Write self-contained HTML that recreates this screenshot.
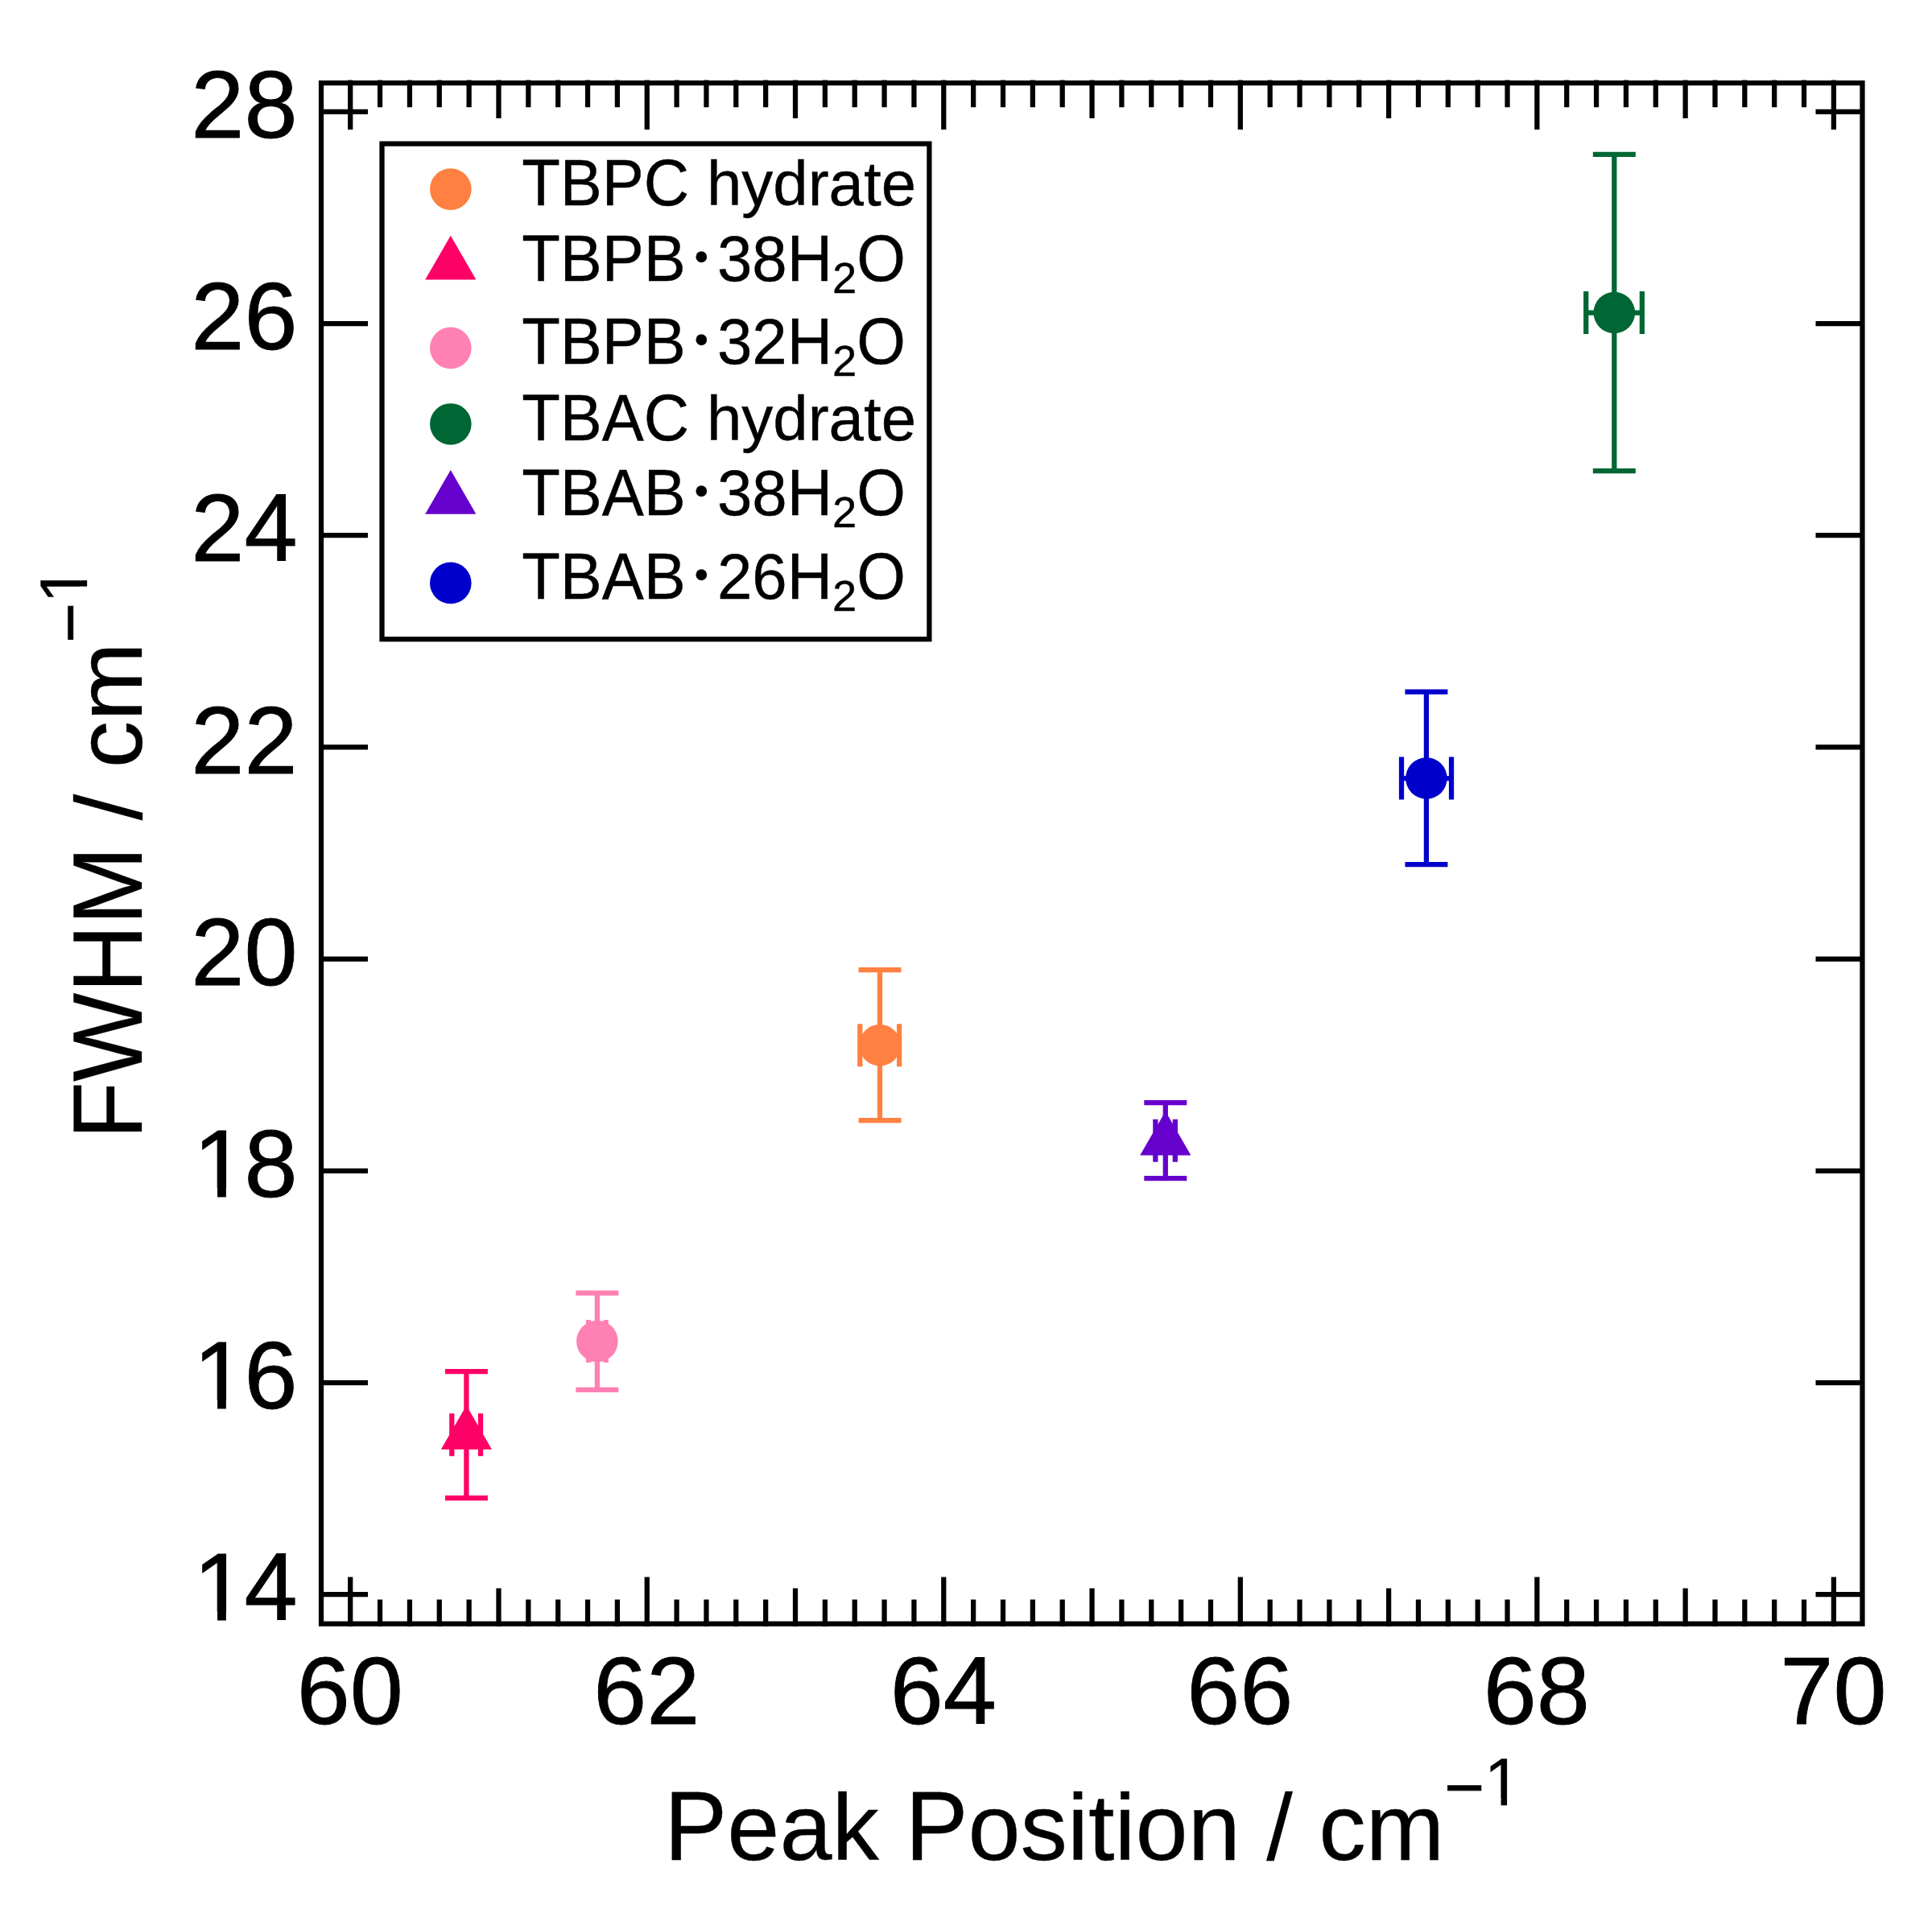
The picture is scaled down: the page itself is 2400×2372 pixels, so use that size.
<!DOCTYPE html>
<html lang="en"><head><meta charset="utf-8"><title>FWHM vs Peak Position</title>
<style>html,body{margin:0;padding:0;background:#fff}body{width:2400px;height:2372px;overflow:hidden}</style></head>
<body>
<svg width="2400" height="2372" viewBox="0 0 2400 2372" style="display:block">
<rect width="2400" height="2372" fill="#fff"/>
<g stroke="#000" stroke-width="6.25" fill="none" stroke-linecap="butt">
<path d="M395.88 103.0H2316.62M395.88 2017.6H2316.62M399.0 103.0V2017.6M2313.5 103.0V2017.6"/>
<path d="M435.20 2021.02v-61.42M435.20 99.58v61.42M472.05 2021.02v-33.62M472.05 99.58v33.62M508.91 2021.02v-33.62M508.91 99.58v33.62M545.76 2021.02v-33.62M545.76 99.58v33.62M582.62 2021.02v-33.62M582.62 99.58v33.62M619.47 2021.02v-47.42M619.47 99.58v47.42M656.32 2021.02v-33.62M656.32 99.58v33.62M693.18 2021.02v-33.62M693.18 99.58v33.62M730.03 2021.02v-33.62M730.03 99.58v33.62M766.89 2021.02v-33.62M766.89 99.58v33.62M803.74 2021.02v-61.42M803.74 99.58v61.42M840.59 2021.02v-33.62M840.59 99.58v33.62M877.45 2021.02v-33.62M877.45 99.58v33.62M914.30 2021.02v-33.62M914.30 99.58v33.62M951.16 2021.02v-33.62M951.16 99.58v33.62M988.01 2021.02v-47.42M988.01 99.58v47.42M1024.86 2021.02v-33.62M1024.86 99.58v33.62M1061.72 2021.02v-33.62M1061.72 99.58v33.62M1098.57 2021.02v-33.62M1098.57 99.58v33.62M1135.43 2021.02v-33.62M1135.43 99.58v33.62M1172.28 2021.02v-61.42M1172.28 99.58v61.42M1209.13 2021.02v-33.62M1209.13 99.58v33.62M1245.99 2021.02v-33.62M1245.99 99.58v33.62M1282.84 2021.02v-33.62M1282.84 99.58v33.62M1319.70 2021.02v-33.62M1319.70 99.58v33.62M1356.55 2021.02v-47.42M1356.55 99.58v47.42M1393.40 2021.02v-33.62M1393.40 99.58v33.62M1430.26 2021.02v-33.62M1430.26 99.58v33.62M1467.11 2021.02v-33.62M1467.11 99.58v33.62M1503.97 2021.02v-33.62M1503.97 99.58v33.62M1540.82 2021.02v-61.42M1540.82 99.58v61.42M1577.67 2021.02v-33.62M1577.67 99.58v33.62M1614.53 2021.02v-33.62M1614.53 99.58v33.62M1651.38 2021.02v-33.62M1651.38 99.58v33.62M1688.24 2021.02v-33.62M1688.24 99.58v33.62M1725.09 2021.02v-47.42M1725.09 99.58v47.42M1761.94 2021.02v-33.62M1761.94 99.58v33.62M1798.80 2021.02v-33.62M1798.80 99.58v33.62M1835.65 2021.02v-33.62M1835.65 99.58v33.62M1872.51 2021.02v-33.62M1872.51 99.58v33.62M1909.36 2021.02v-61.42M1909.36 99.58v61.42M1946.21 2021.02v-33.62M1946.21 99.58v33.62M1983.07 2021.02v-33.62M1983.07 99.58v33.62M2019.92 2021.02v-33.62M2019.92 99.58v33.62M2056.78 2021.02v-33.62M2056.78 99.58v33.62M2093.63 2021.02v-47.42M2093.63 99.58v47.42M2130.48 2021.02v-33.62M2130.48 99.58v33.62M2167.34 2021.02v-33.62M2167.34 99.58v33.62M2204.19 2021.02v-33.62M2204.19 99.58v33.62M2241.05 2021.02v-33.62M2241.05 99.58v33.62M2277.90 2021.02v-61.42M2277.90 99.58v61.42"/>
<path d="M399.0 1981.20h58.0M2313.5 1981.20h-58.0M399.0 1718.00h58.0M2313.5 1718.00h-58.0M399.0 1454.80h58.0M2313.5 1454.80h-58.0M399.0 1191.60h58.0M2313.5 1191.60h-58.0M399.0 928.40h58.0M2313.5 928.40h-58.0M399.0 665.20h58.0M2313.5 665.20h-58.0M399.0 402.00h58.0M2313.5 402.00h-58.0M399.0 138.80h58.0M2313.5 138.80h-58.0"/>
</g>
<g font-family='"Liberation Sans", Arial, Helvetica, sans-serif' font-size="118.8" fill="#000" stroke="#000" stroke-width="0.9">
<text x="434.70" y="2141.5" text-anchor="middle">60</text>
<text x="803.24" y="2141.5" text-anchor="middle">62</text>
<text x="1171.78" y="2141.5" text-anchor="middle">64</text>
<text x="1540.32" y="2141.5" text-anchor="middle">66</text>
<text x="1908.86" y="2141.5" text-anchor="middle">68</text>
<text x="2277.40" y="2141.5" text-anchor="middle">70</text>
<text x="240.35 303.42" y="2013.40">14</text>
<rect x="247.47" y="2002.40" width="22.57" height="13.00" fill="#fff" stroke="none"/><rect x="280.86" y="2002.40" width="21.27" height="13.00" fill="#fff" stroke="none"/>
<text x="240.35 303.42" y="1750.20">16</text>
<rect x="247.47" y="1739.20" width="22.57" height="13.00" fill="#fff" stroke="none"/><rect x="280.86" y="1739.20" width="21.27" height="13.00" fill="#fff" stroke="none"/>
<text x="240.35 303.42" y="1487.00">18</text>
<rect x="247.47" y="1476.00" width="22.57" height="13.00" fill="#fff" stroke="none"/><rect x="280.86" y="1476.00" width="21.27" height="13.00" fill="#fff" stroke="none"/>
<text x="237.35" y="1223.80">20</text>
<text x="237.35" y="960.60">22</text>
<text x="237.35" y="697.40">24</text>
<text x="237.35" y="434.20">26</text>
<text x="237.35" y="171.00">28</text>
</g>
<g font-family='"Liberation Sans", Arial, Helvetica, sans-serif' font-size="117.0" fill="#000" stroke="#000" stroke-width="0.3">
<text transform="translate(825.30 2310.50) scale(1 1.042)">P</text><text x="903.34" y="2310.50">eak</text><text transform="translate(1124.49 2310.50) scale(1 1.042)">P</text><text x="1202.53" y="2310.50">osition / cm</text>
<text x="1794.18" y="2249.63" font-size="85.5" stroke="#000" stroke-width="0.8">−</text><text x="1843.78" y="2242.80" font-size="83.0">1</text><rect x="1848.76" y="2234.66" width="15.77" height="10.14" fill="#fff" stroke="none"/><rect x="1872.08" y="2234.66" width="14.86" height="10.14" fill="#fff" stroke="none"/>
<g transform="translate(176.2 1415.5) rotate(-90)"><text transform="translate(0.00 0.00) scale(1 1.042)">FWHM</text><text x="396.35" y="0.00">/ cm</text><text x="616.78" y="-60.62" font-size="85.5" stroke="#000" stroke-width="0.8">−</text><text x="666.08" y="-68.15" font-size="83.0">1</text><rect x="671.06" y="-76.29" width="15.77" height="10.14" fill="#fff" stroke="none"/><rect x="694.38" y="-76.29" width="14.86" height="10.14" fill="#fff" stroke="none"/></g>
</g>
<g stroke="#FF8040" stroke-width="6.25" fill="#FF8040">
<path fill="none" d="M1093.00 1205.20V1392.00M1066.50 1205.20h53.0M1066.50 1392.00h53.0M1068.30 1298.70H1117.10M1068.30 1272.20v53.0M1117.10 1272.20v53.0"/>
<g stroke="none">
<circle cx="1093.00" cy="1298.70" r="25.8"/>
</g></g>
<g stroke="#FF0066" stroke-width="6.25" fill="#FF0066">
<path fill="none" d="M579.40 1704.00V1861.30M552.90 1704.00h53.0M552.90 1861.30h53.0M561.30 1782.80H597.00M561.30 1756.30v53.0M597.00 1756.30v53.0"/>
<g stroke="none">
<path d="M547.80 1801.04H611.00L579.40 1746.31Z"/>
</g></g>
<g stroke="#FF80B3" stroke-width="6.25" fill="#FF80B3">
<path fill="none" d="M741.90 1606.50V1726.90M715.40 1606.50h53.0M715.40 1726.90h53.0M731.10 1666.60H752.60M731.10 1640.10v53.0M752.60 1640.10v53.0"/>
<g stroke="none">
<circle cx="741.90" cy="1666.60" r="25.8"/>
</g></g>
<g stroke="#006633" stroke-width="6.25" fill="#006633">
<path fill="none" d="M2005.30 191.90V585.15M1978.80 191.90h53.0M1978.80 585.15h53.0M1970.20 388.50H2039.85M1970.20 362.00v53.0M2039.85 362.00v53.0"/>
<g stroke="none">
<circle cx="2005.30" cy="388.50" r="25.8"/>
</g></g>
<g stroke="#6600CC" stroke-width="6.25" fill="#6600CC">
<path fill="none" d="M1447.80 1370.00V1464.10M1421.30 1370.00h53.0M1421.30 1464.10h53.0M1435.35 1417.20H1459.85M1435.35 1390.70v53.0M1459.85 1390.70v53.0"/>
<g stroke="none">
<path d="M1416.20 1435.44H1479.40L1447.80 1380.71Z"/>
</g></g>
<g stroke="#0000CC" stroke-width="6.25" fill="#0000CC">
<path fill="none" d="M1771.90 859.50V1074.00M1745.40 859.50h53.0M1745.40 1074.00h53.0M1741.00 967.00H1803.00M1741.00 940.50v53.0M1803.00 940.50v53.0"/>
<g stroke="none">
<circle cx="1771.90" cy="967.00" r="25.8"/>
</g></g>
<rect x="474.5" y="178.6" width="679.90" height="615.60" fill="#fff" stroke="#000" stroke-width="6.25"/>
<g font-family='"Liberation Sans", Arial, Helvetica, sans-serif' font-size="78.0" fill="#000" stroke="#000" stroke-width="0.4">
<circle cx="559.8" cy="235.10" r="25.8" fill="#FF8040" stroke="none"/>
<text transform="translate(648.20 254.70) scale(1 1.042)">TBPC</text><text x="877.89" y="254.70">hydrate</text>
<g fill="#FF0066" stroke="none"><path d="M528.20 347.44H591.40L559.80 292.71Z"/></g>
<text transform="translate(648.20 348.80) scale(1 1.042)">TBPB</text>
<text x="862.78" y="335.78" font-size="49.1">•</text>
<text transform="translate(890.90 348.80) scale(1 1.012)">38</text><text transform="translate(977.67 348.80) scale(1 1.042)">H</text><text x="1034.00" y="363.50" font-size="54.3">2</text><text transform="translate(1064.20 348.80) scale(1 1.042)">O</text>
<circle cx="559.8" cy="432.40" r="25.8" fill="#FF80B3" stroke="none"/>
<text transform="translate(648.20 452.00) scale(1 1.042)">TBPB</text>
<text x="862.78" y="438.98" font-size="49.1">•</text>
<text transform="translate(890.90 452.00) scale(1 1.012)">32</text><text transform="translate(977.67 452.00) scale(1 1.042)">H</text><text x="1034.00" y="466.70" font-size="54.3">2</text><text transform="translate(1064.20 452.00) scale(1 1.042)">O</text>
<circle cx="559.8" cy="526.95" r="25.8" fill="#006633" stroke="none"/>
<text transform="translate(648.20 546.55) scale(1 1.042)">TBAC</text><text x="877.89" y="546.55">hydrate</text>
<g fill="#6600CC" stroke="none"><path d="M528.20 638.84H591.40L559.80 584.11Z"/></g>
<text transform="translate(648.20 640.20) scale(1 1.042)">TBAB</text>
<text x="862.78" y="627.18" font-size="49.1">•</text>
<text transform="translate(890.90 640.20) scale(1 1.012)">38</text><text transform="translate(977.67 640.20) scale(1 1.042)">H</text><text x="1034.00" y="654.90" font-size="54.3">2</text><text transform="translate(1064.20 640.20) scale(1 1.042)">O</text>
<circle cx="559.8" cy="724.40" r="25.8" fill="#0000CC" stroke="none"/>
<text transform="translate(648.20 744.00) scale(1 1.042)">TBAB</text>
<text x="862.78" y="730.98" font-size="49.1">•</text>
<text transform="translate(890.90 744.00) scale(1 1.012)">26</text><text transform="translate(977.67 744.00) scale(1 1.042)">H</text><text x="1034.00" y="758.70" font-size="54.3">2</text><text transform="translate(1064.20 744.00) scale(1 1.042)">O</text>
</g>
</svg>
</body></html>
